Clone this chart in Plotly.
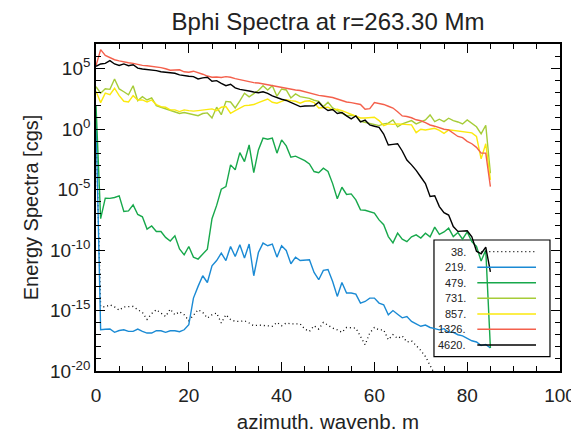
import plotly.graph_objects as go

# azimuthal wavenumber m
m = list(range(86))

# log10 of energy spectra
s38 = [0.0, -14.66, -14.7, -14.52, -14.7, -14.97, -14.7, -14.7, -14.66, -14.93,
       -15.15, -15.74, -15.25, -14.93, -15.25, -15.49, -14.88, -15.35, -15.1, -15.35,
       -15.84, -15.35, -14.93, -15.15, -15.62, -15.35, -15.2, -16.03, -15.35, -15.74,
       -15.9, -15.9, -15.84, -16.03, -16.26, -16.2, -16.2, -16.26, -16.3, -15.98,
       -16.26, -16.03, -16.1, -16.1, -16.1, -16.53, -16.72, -16.26, -16.53, -15.98,
       -16.2, -16.45, -16.59, -16.8, -16.4, -16.45, -16.45, -17.14, -17.83, -16.86,
       -16.4, -16.6, -16.6, -17.41, -17.0, -17.3, -17.1, -17.6, -17.5, -17.9,
       -18.3, -18.8, -19.5, -20.2, -21.0, -21.5, -22.0, -22.3, -22.8, -23.0,
       -23.4, -23.8, -24.0, -24.3, -24.6, -25.0]
s219 = [1.0, -16.59, -16.55, -16.53, -16.8, -16.65, -16.59, -16.72, -16.72, -16.53,
        -16.72, -16.86, -16.86, -16.67, -16.67, -16.8, -16.67, -16.67, -16.75, -16.59,
        -16.17, -13.97, -13.0, -12.12, -12.68, -11.3, -10.86, -10.25, -10.86, -9.7,
        -10.53, -9.56, -10.66, -9.5, -12.12, -10.2, -9.42, -9.64, -9.5, -10.58,
        -9.64, -10.03, -11.13, -10.58, -10.86, -10.8, -10.8, -11.85, -12.45, -11.68,
        -11.6, -12.6, -13.83, -12.68, -13.55, -13.55, -13.64, -14.38, -14.25, -13.97,
        -13.97, -14.38, -14.52, -15.35, -15.0, -15.3, -15.6, -15.5, -15.9, -16.1,
        -16.3, -16.2, -16.4, -16.5, -16.6, -16.5, -16.8, -16.8, -17.0, -17.1,
        -17.27, -17.5, -17.6, -17.9, -17.8, -18.1]
s479 = [2.0, -7.4, -5.7, -5.72, -5.65, -5.51, -6.81, -6.75, -6.26, -7.05,
        -7.25, -8.26, -8.0, -8.46, -8.46, -8.95, -9.25, -8.82, -9.9, -10.39,
        -9.7, -10.58, -10.74, -10.3, -9.92, -7.4, -6.3, -4.96, -4.74, -2.95,
        -3.36, -1.93, -2.68, -1.3, -3.59, -1.71, -0.74, -0.83, -0.74, -1.98,
        -0.88, -1.38, -2.31, -2.23, -2.4, -2.6, -2.87, -3.5, -3.6, -3.22,
        -3.5, -4.5, -5.75, -4.8, -5.4, -5.35, -5.85, -6.67, -6.7, -6.8,
        -6.94, -7.5, -7.9, -8.88, -9.4, -8.6, -9.1, -9.3, -8.9, -8.74,
        -9.0, -8.6, -8.9, -8.1, -8.7, -8.5, -8.18, -8.88, -8.55, -9.1,
        -8.5, -9.3, -9.7, -10.9, -10.0, -18.1]
s731 = [3.52, 2.98, 3.35, 3.3, 4.15, 3.33, 3.1, 2.85, 3.6, 2.35,
        2.69, 2.42, 2.59, 1.95, 1.82, 1.68, 1.54, 1.45, 1.3, 1.38,
        1.3, 1.2, 1.12, 1.3, 1.35, 0.93, 1.82, 1.2, 2.3, 2.25,
        1.76, 2.34, 2.98, 2.68, 2.92, 3.2, 3.6, 3.25, 3.6, 2.73,
        3.33, 3.25, 2.59, 2.92, 2.7, 2.62, 2.55, 2.4, 2.31, 1.87,
        2.23, 1.76, 1.55, 1.35, 1.12, 1.15, 1.1, 0.66, 0.58, 0.5,
        0.44, 0.3, 0.44, 0.5, 0.77, 0.2, 0.44, 0.6, 0.71, 0.44,
        0.6, 0.77, 1.18, 0.63, 0.83, 0.63, 0.91, 0.71, 0.6, 0.44,
        0.77, 0.5, 0.2, -0.39, 0.33, -3.64]
s857 = [3.15, 2.2, 2.98, 2.86, 3.39, 2.78, 2.31, 2.26, 2.78, 2.42,
        2.42, 2.26, 2.42, 2.04, 1.87, 1.82, 1.6, 1.6, 1.46, 1.6,
        1.54, 1.5, 1.54, 1.6, 1.65, 1.68, 1.54, 1.82, 1.87, 1.32,
        1.54, 1.76, 1.95, 1.98, 2.04, 2.2, 2.35, 2.5, 2.23, 2.15,
        2.31, 2.45, 2.37, 2.31, 2.15, 2.31, 2.35, 2.2, 1.76, 1.8,
        1.82, 1.6, 1.65, 1.54, 1.4, 1.2, 1.1, 0.93, 0.93, 0.95,
        0.99, 0.71, 0.3, 0.44, 0.4, 0.44, 0.4, 0.38, 0.36, -0.28,
        0.0, -0.06, 0.0, 0.08, -0.1, -0.35, -0.05, -0.1, -0.15, -0.2,
        -0.25, -0.3, -0.6, -2.45, -1.2, -4.19]
s1326 = [5.26, 6.58, 6.1, 5.9, 5.75, 5.65, 5.55, 5.5, 5.45, 5.35,
         5.28, 5.25, 5.22, 5.18, 5.1, 5.0, 4.88, 4.9, 4.92, 4.75,
         4.72, 4.8, 4.7, 4.55, 4.4, 4.3, 4.32, 4.28, 4.35, 4.3,
         4.18, 4.1, 3.98, 3.92, 3.85, 3.82, 3.75, 3.62, 3.55, 3.5,
         3.45, 3.4, 3.3, 3.25, 3.2, 3.1, 3.0, 2.88, 2.8, 2.75,
         2.7, 2.62, 2.5, 2.38, 2.25, 2.2, 2.15, 2.05, 1.65, 1.7,
         2.2, 2.15, 2.05, 1.9, 1.75, 1.45, 1.1, 1.05, 0.95, 0.78,
         0.7, 0.55, 0.35, 0.25, 0.1, 0.0, -0.05, -0.3, -0.6, -0.7,
         -1.0, -1.2, -1.5, -1.98, -1.98, -4.74]
s4620 = [5.2, 5.4, 5.45, 5.67, 5.4, 5.28, 5.4, 5.25, 5.33, 5.05,
         4.98, 4.95, 4.9, 4.85, 4.75, 4.72, 4.65, 4.63, 4.5, 4.42,
         4.38, 4.35, 4.16, 4.25, 4.3, 3.97, 4.02, 3.8, 3.6, 3.72,
         3.42, 3.3, 3.2, 3.16, 3.08, 3.02, 3.1, 2.97, 2.75, 2.6,
         2.48, 2.38, 2.23, 2.05, 1.87, 1.92, 1.95, 1.93, 2.23, 1.82,
         1.55, 1.63, 1.3, 1.38, 1.1, 0.85, 1.1, 0.6, 0.75, 0.35,
         0.25, 0.15, -0.4, -1.3, -1.25, -1.2, -1.8, -2.55, -2.95, -3.4,
         -3.95, -4.5, -5.57, -5.5, -6.4, -6.9, -7.1, -8.05, -8.45, -8.4,
         -8.4, -8.9, -10.1, -10.3, -9.75, -11.8]

labels = ["38.", "219.", "479.", "731.", "857.", "1326.", "4620."]
series = [s38, s219, s479, s731, s857, s1326, s4620]
colors = ["#000000", "#1a8ad4", "#17a84b", "#a6cc38", "#fbe90e", "#f4604c", "#000000"]
dashes = ["1px,3px", "solid", "solid", "solid", "solid", "solid", "solid"]

major_exp = [-20, -15, -10, -5, 0, 5]
xticks = [0, 20, 40, 60, 80, 100]

# page body has an 8px default margin; figure is sized/offset to compensate
W, H = 571, 433
L, R, T, B = 88, 19, 36, 70

fig = go.Figure()
for lab, s, c, d in zip(labels, series, colors, dashes):
    fig.add_trace(go.Scatter(
        x=m, y=[10 ** v for v in s], mode="lines", name=lab,
        line=dict(color=c, width=1.4 if d == "solid" else 1.3, dash=d),
        showlegend=False))

# manual legend box (IDL style: label left of line sample)
lx0, lx1 = 0.7284, 0.9784
ly0, ly1 = 0.0437, 0.4006
fig.add_shape(type="rect", xref="paper", yref="paper", x0=lx0, x1=lx1, y0=ly0, y1=ly1,
              line=dict(color="#000000", width=1.2), layer="below")
row_py = [251.7, 267.3, 282.7, 298.3, 314.0, 329.3, 345.0]
for lab, c, d, py in zip(labels, colors, dashes, row_py):
    yy = (371 - py) / 327
    fig.add_shape(type="line", xref="paper", yref="paper", x0=0.8218, x1=0.9483, y0=yy, y1=yy,
                  line=dict(color=c, width=1.4 if d == "solid" else 1.3, dash=d))
    fig.add_annotation(xref="paper", yref="paper", x=0.8024, y=yy, text=lab, showarrow=False,
                       xanchor="right", yanchor="middle", font=dict(size=11, color="#222222"))

axis_common = dict(showline=True, linecolor="#000000", linewidth=1.6, mirror="ticks",
                   ticks="inside", tickcolor="#000000", tickwidth=1.3, showgrid=False,
                   zeroline=False, automargin=False)

fig.update_xaxes(range=[0, 100], tickvals=xticks, ticklen=9, ticklabelstandoff=6,
                 minor=dict(dtick=5, ticklen=5, tickcolor="#000000", ticks="inside", tickwidth=1.3),
                 title=dict(text="azimuth. wavenb. m", font=dict(size=20.5, color="#222222"), standoff=10),
                 tickfont=dict(size=19, color="#222222"), **axis_common)
fig.update_yaxes(type="log", range=[-20, 7.05],
                 tickvals=[10.0 ** e for e in major_exp],
                 ticktext=["10<sup>%d</sup>" % e for e in major_exp],
                 ticklen=9,
                 minor=dict(tickvals=[10.0 ** e for e in range(-20, 8) if e % 5 != 0],
                            ticklen=5, tickcolor="#000000", ticks="inside", tickwidth=1.3),
                 title=dict(text="Energy Spectra [cgs]", font=dict(size=20, color="#222222"), standoff=6),
                 tickfont=dict(size=19, color="#222222"), **axis_common)

fig.update_layout(
    width=W, height=H,
    margin=dict(l=L, r=R, t=T, b=B),
    paper_bgcolor="#ffffff", plot_bgcolor="#ffffff",
    font=dict(family="Liberation Sans, Arial, sans-serif", color="#222222"),
    title=dict(text="Bphi Spectra at r=263.30 Mm", x=320 / W, xanchor="center",
               y=1 - 13.5 / H, yanchor="middle", font=dict(size=24, color="#222222")),
)

fig.write_html("out.html")
